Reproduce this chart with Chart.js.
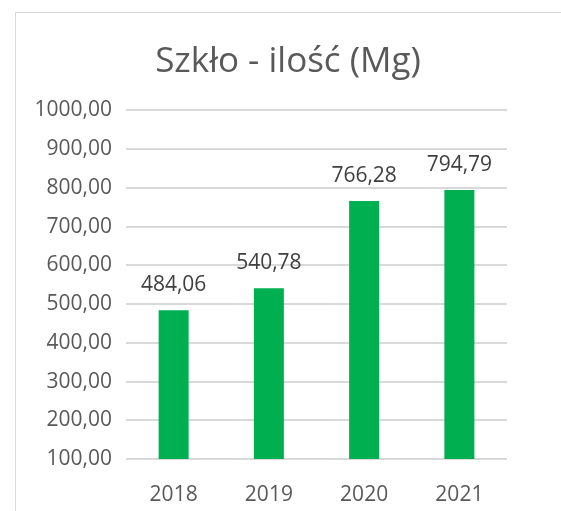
<!DOCTYPE html>
<html>
<head>
<meta charset="utf-8">
<script src="https://cdn.jsdelivr.net/npm/chart.js@4"></script>
<style>
  html, body { margin: 0; padding: 0; background: #fff; overflow: hidden; }
  canvas { display: block; }
</style>
</head>
<body>
<canvas id="chart" width="561" height="511"></canvas>
<script>
// data
var years = ['2018', '2019', '2020', '2021'];
var amounts = [484.06, 540.78, 766.28, 794.79];
var yMin = 100, yMax = 1000, yStep = 100;
var titleText = 'Szkło - ilość (Mg)';

var fmt = function (v) {
  return v.toFixed(2).replace('.', ',');
};

// chart frame (left + top edge only, the rest is cut off), value labels, title
var extras = {
  id: 'extras',
  beforeDraw: function (chart) {
    var ctx = chart.ctx;
    ctx.save();
    ctx.strokeStyle = '#d9d9d9';
    ctx.lineWidth = 1;
    ctx.beginPath();
    ctx.moveTo(15.5, chart.height);
    ctx.lineTo(15.5, 12.5);
    ctx.lineTo(chart.width, 12.5);
    ctx.stroke();
    ctx.restore();
  },
  afterDatasetsDraw: function (chart) {
    var ctx = chart.ctx;
    var meta = chart.getDatasetMeta(0);
    ctx.save();
    ctx.font = '21px "Open Sans"';
    ctx.fillStyle = '#404040';
    ctx.textAlign = 'center';
    ctx.textBaseline = 'alphabetic';
    meta.data.forEach(function (bar, i) {
      ctx.fillText(fmt(amounts[i]), bar.x, bar.y - 19);
    });
    ctx.font = '35px "Open Sans"';
    ctx.fillStyle = '#595959';
    ctx.textBaseline = 'middle';
    ctx.fillText(titleText, 288, 62);
    ctx.restore();
  }
};

new Chart(document.getElementById('chart'), {
  type: 'bar',
  data: {
    labels: years,
    datasets: [{
      data: amounts,
      backgroundColor: '#00b050',
      borderWidth: 0,
      categoryPercentage: 1,
      barPercentage: 0.315
    }]
  },
  options: {
    responsive: false,
    animation: false,
    layout: { padding: { left: 15, right: 54, top: 12, bottom: 0 } },
    plugins: {
      legend: { display: false },
      tooltip: { enabled: false },
      // keeps the space; the text itself is drawn by the extras plugin
      title: {
        display: true,
        text: titleText,
        color: 'rgba(0,0,0,0)',
        font: { family: 'Open Sans', size: 32, weight: 'normal' },
        padding: { top: 29, bottom: 31 }
      }
    },
    scales: {
      x: {
        grid: { display: false },
        border: { display: false },
        ticks: { color: '#595959', font: { family: 'Open Sans', size: 21 }, padding: 15 },
        afterFit: function (s) { s.height = 52; }
      },
      y: {
        min: yMin,
        max: yMax,
        grid: { color: '#d9d9d9', lineWidth: 2, drawTicks: false },
        border: { display: false },
        ticks: {
          stepSize: yStep,
          color: '#595959',
          font: { family: 'Open Sans', size: 21 },
          padding: 14,
          callback: function (v) { return fmt(v); }
        },
        afterFit: function (s) { s.width = 111; }
      }
    }
  },
  plugins: [extras]
});
</script>
</body>
</html>
